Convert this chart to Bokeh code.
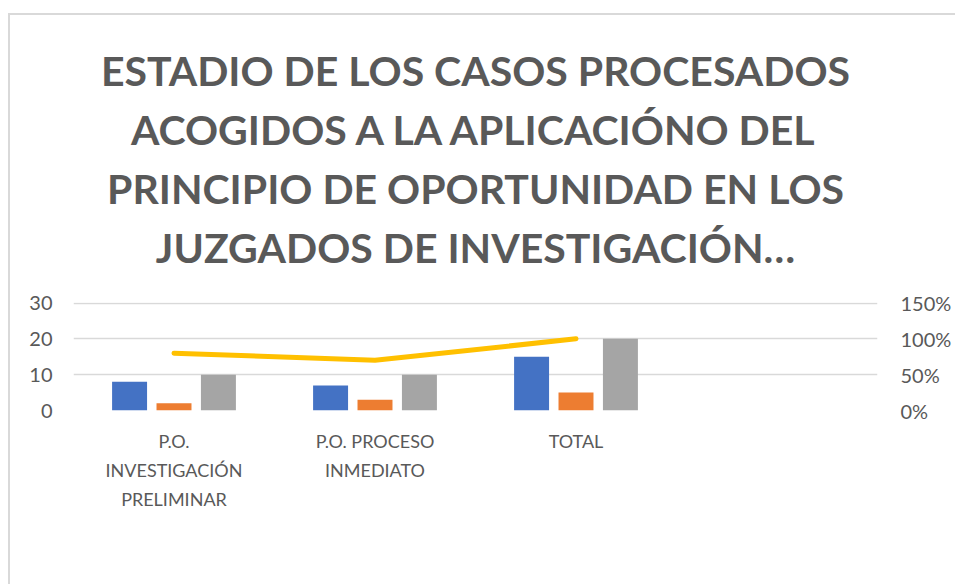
from bokeh.plotting import figure
from bokeh.models import (ColumnDataSource, FactorRange, Range1d, LinearAxis, Legend,
                          LegendItem, FixedTicker, NumeralTickFormatter, Title)
from bokeh.transform import dodge
from bokeh.embed import file_html
from bokeh.resources import INLINE

# ---- data ----
categories = ["P.O.\nINVESTIGACIÓN\nPRELIMINAR", "P.O. PROCESO\nINMEDIATO", "TOTAL"]
empty_slot = [" "]
resuelto = [8, 7, 15]
tramite = [2, 3, 5]
total = [10, 10, 20]
porcentaje = [0.80, 0.70, 1.00]
series_names = ["RESUELTO", "TRÁMITE", "TOTAL", "PORCENTAJE"]
title_lines = [
    "ESTADIO DE LOS CASOS PROCESADOS",
    "ACOGIDOS A LA APLICACIÓNO DEL",
    "PRINCIPIO DE OPORTUNIDAD EN LOS",
    "JUZGADOS DE INVESTIGACIÓN…",
]
left_ticks = [0, 10, 20, 30]
right_ticks = [0, 0.5, 1.0, 1.5]
y_end = 30.15

BLUE, ORANGE, GRAY, GOLD = "#4472C4", "#ED7D31", "#A5A5A5", "#FFC000"
TXT = "#595959"
FONT = "Lato"

src = ColumnDataSource(dict(cat=categories, resuelto=resuelto, tramite=tramite,
                            total=total, pct=porcentaje))

p = figure(x_range=FactorRange(*(categories + empty_slot)), y_range=Range1d(0, y_end),
           frame_width=804, frame_height=108, margin=(13, 0, 0, 8),
           output_backend="svg", toolbar_location=None,
           min_border_left=63, min_border_right=78, min_border_top=287, min_border_bottom=0)
p.styles = {"border-left": "2px solid #D9D9D9", "border-top": "2px solid #D9D9D9"}
p.outline_line_color = None
p.background_fill_color = "white"
p.border_fill_color = "white"
p.extra_y_ranges = {"pct": Range1d(0, 1.5 * y_end / 30)}

# title: one centred Title per line, the last line nearest the frame
p.title.visible = False
p.add_layout(Title(text=" ", text_font_size="10px", standoff=14), "above")  # gap under title
for line in reversed(title_lines):
    p.add_layout(Title(text=line, align="center", text_font=FONT, text_font_style="bold",
                       text_font_size="41px", text_color=TXT, standoff=8), "above")

bw = 0.174
off = 0.221
r1 = p.vbar(x=dodge("cat", -off, range=p.x_range), top="resuelto", width=bw, source=src,
            color=BLUE, line_color=None)
r2 = p.vbar(x=dodge("cat", 0, range=p.x_range), top="tramite", width=bw, source=src,
            color=ORANGE, line_color=None)
r3 = p.vbar(x=dodge("cat", off, range=p.x_range), top="total", width=bw, source=src,
            color=GRAY, line_color=None)
r4 = p.line(x="cat", y="pct", source=src, y_range_name="pct", line_color=GOLD,
            line_width=5, line_cap="round", line_join="round")

# axes
for ax in [p.xaxis[0], p.yaxis[0]]:
    ax.axis_line_color = None
    ax.major_tick_line_color = None
    ax.minor_tick_line_color = None
    ax.major_tick_out = 0
    ax.major_tick_in = 0
    ax.major_label_text_color = TXT
    ax.major_label_text_font = FONT
p.yaxis[0].ticker = FixedTicker(ticks=left_ticks)
p.yaxis[0].major_label_text_font_size = "20px"
p.yaxis[0].major_label_standoff = 21
p.xaxis[0].major_label_text_font_size = "18px"
p.xaxis[0].major_label_text_line_height = 1.34
p.xaxis[0].major_label_standoff = 19

ra = LinearAxis(y_range_name="pct", ticker=FixedTicker(ticks=right_ticks),
                formatter=NumeralTickFormatter(format="0%"))
ra.axis_line_color = None
ra.major_tick_line_color = None
ra.minor_tick_line_color = None
ra.major_tick_out = 0
ra.major_tick_in = 0
ra.major_label_text_color = TXT
ra.major_label_text_font = FONT
ra.major_label_text_font_size = "20px"
ra.major_label_standoff = 23
p.add_layout(ra, "right")

p.xgrid.grid_line_color = None
p.ygrid.grid_line_color = "#D9D9D9"
p.ygrid.grid_line_width = 1.5
p.ygrid.ticker = FixedTicker(ticks=left_ticks)

legend = Legend(items=[LegendItem(label=n, renderers=[r]) for n, r in zip(series_names, [r1, r2, r3, r4])],
                orientation="horizontal", location=(55, 0),
                glyph_width=35, glyph_height=13, label_standoff=3, spacing=18,
                label_text_font=FONT, label_text_font_size="16px", label_text_color=TXT,
                padding=0, margin=0, border_line_color=None, background_fill_color=None)
p.add_layout(legend, "below")

open("out.html", "w").write(file_html(p, INLINE))
